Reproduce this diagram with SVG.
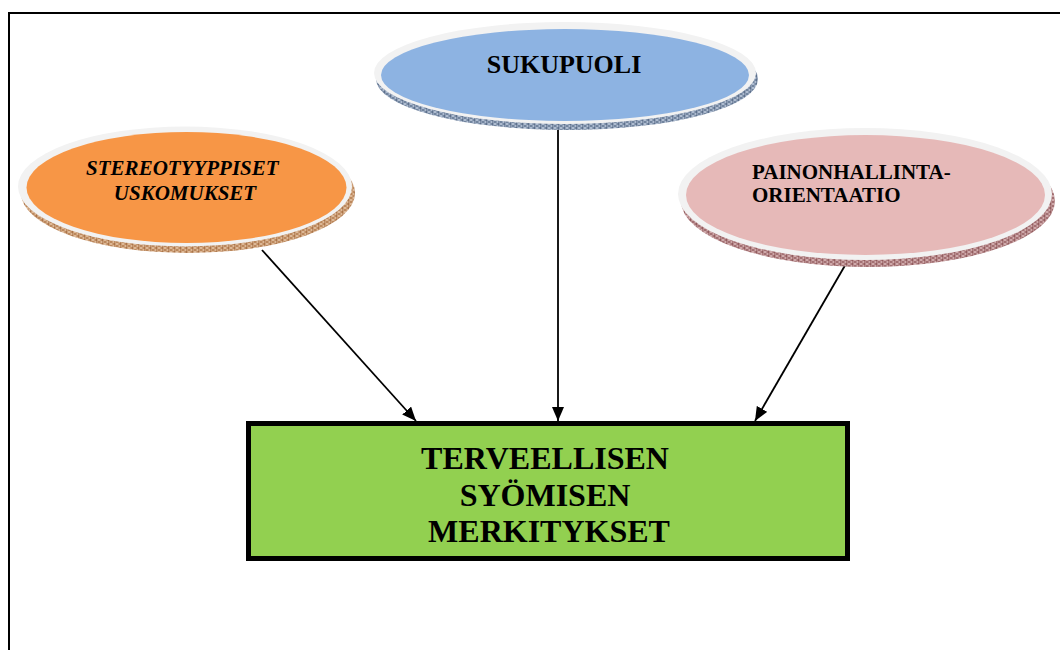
<svg xmlns="http://www.w3.org/2000/svg" width="1060" height="650" viewBox="0 0 1060 650">
  <defs>
    <style>
      .rim { fill: #f2f2f2; }
      .lbl { font-family: "Liberation Serif", "Times New Roman", serif; font-weight: bold; fill: #000; }
      .edge { stroke: #000; stroke-width: 1.8; fill: none; marker-end: url(#arrow); }
    </style>
    <!-- hatched textures for the raised ellipse edges -->
    <pattern id="hatchBlue" width="6" height="4" patternUnits="userSpaceOnUse">
      <rect width="6" height="4" fill="#aebcd0"/>
      <path d="M0 0 L6 4 M6 0 L0 4" stroke="#4f6482" stroke-width="0.7"/>
      <path d="M0 0 V4" stroke="#3e5270" stroke-width="0.9"/>
    </pattern>
    <pattern id="hatchOrange" width="6" height="4" patternUnits="userSpaceOnUse">
      <rect width="6" height="4" fill="#ddb896"/>
      <path d="M0 0 L6 4 M6 0 L0 4" stroke="#a86b3c" stroke-width="0.7"/>
      <path d="M0 0 V4" stroke="#94592c" stroke-width="0.9"/>
    </pattern>
    <pattern id="hatchPink" width="6" height="4" patternUnits="userSpaceOnUse">
      <rect width="6" height="4" fill="#cfa9aa"/>
      <path d="M0 0 L6 4 M6 0 L0 4" stroke="#8a4f52" stroke-width="0.7"/>
      <path d="M0 0 V4" stroke="#7a3d41" stroke-width="0.9"/>
    </pattern>
    <marker id="arrow" viewBox="0 0 14 12" refX="14" refY="6" markerWidth="14" markerHeight="12" markerUnits="userSpaceOnUse" orient="auto">
      <path d="M0 0 L14 6 L0 12 Z" fill="#000"/>
    </marker>
  </defs>

  <rect width="1060" height="650" fill="#fff"/>

  <!-- page frame -->
  <path d="M9 650 V13 H1060" fill="none" stroke="#000" stroke-width="2"/>

  <!-- connectors -->
  <g id="connectors">
    <line class="edge" x1="262" y1="250" x2="416" y2="421"/>
    <line class="edge" x1="558" y1="127" x2="558" y2="421"/>
    <line class="edge" x1="847" y1="262" x2="755" y2="421"/>
  </g>

  <g id="node-sukupuoli">
    <ellipse cx="567" cy="79" rx="191" ry="51" fill="url(#hatchBlue)"/>
    <ellipse class="rim" cx="565" cy="73" rx="191" ry="51"/>
    <ellipse cx="565" cy="75" rx="184" ry="46" fill="#8db3e2"/>
    <text class="lbl" x="564" y="73" font-size="26" text-anchor="middle">SUKUPUOLI</text>
  </g>

  <g id="node-stereotyyppiset">
    <ellipse cx="188" cy="193" rx="167" ry="60" fill="url(#hatchOrange)"/>
    <ellipse class="rim" cx="185" cy="186.5" rx="167" ry="60"/>
    <ellipse cx="186.5" cy="187.5" rx="160" ry="55.5" fill="#f79646"/>
    <text class="lbl" font-size="21" font-style="italic" text-anchor="middle">
      <tspan x="185" y="175">STEREOTYYPPISET</tspan>
      <tspan x="185" y="200">USKOMUKSET</tspan>
    </text>
  </g>

  <g id="node-painonhallinta">
    <ellipse cx="868" cy="201" rx="187" ry="66" fill="url(#hatchPink)"/>
    <ellipse class="rim" cx="865" cy="194" rx="187" ry="66"/>
    <ellipse cx="865.5" cy="195" rx="179.5" ry="60" fill="#e6b9b8"/>
    <text class="lbl" font-size="21">
      <tspan x="752" y="179">PAINONHALLINTA-</tspan>
      <tspan x="752" y="202">ORIENTAATIO</tspan>
    </text>
  </g>

  <g id="node-merkitykset">
    <rect x="248.5" y="423.5" width="599" height="135" fill="#92d050" stroke="#000" stroke-width="5"/>
    <text class="lbl" font-size="32" text-anchor="middle">
      <tspan x="549" y="469">TERVEELLISEN</tspan>
      <tspan x="549" y="506">SYÖMISEN</tspan>
      <tspan x="549" y="542">MERKITYKSET</tspan>
    </text>
  </g>
</svg>
